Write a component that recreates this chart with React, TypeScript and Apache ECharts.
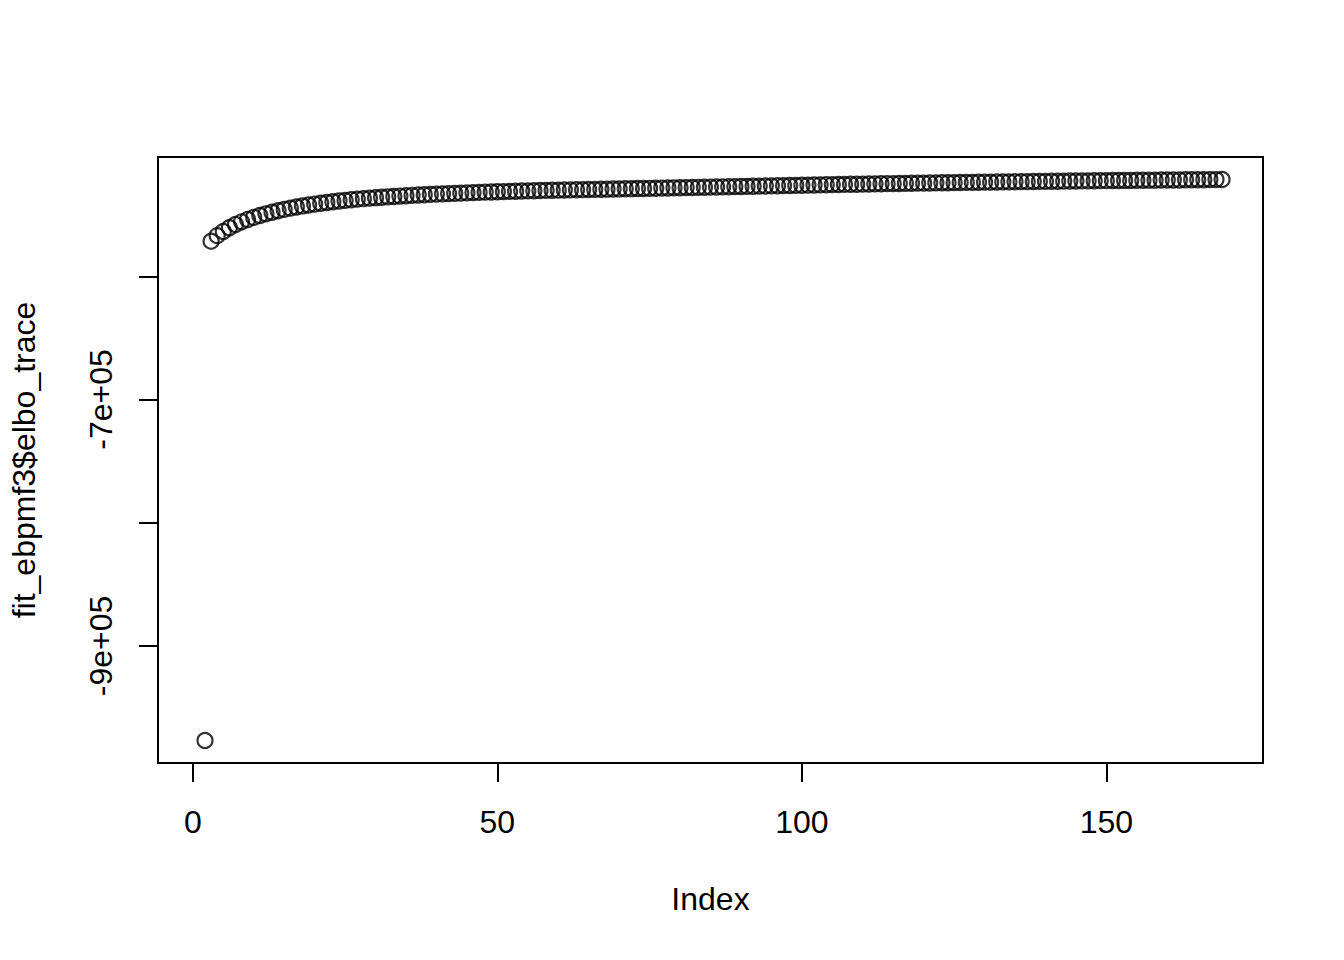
import React, { useEffect, useRef } from "react";
import * as echarts from "echarts";

// fit_ebpmf3$elbo_trace, index 1..169 (index 1 not drawn: NA)
const elboTrace: (number | null)[] = [
  null, -976800,
  -571500, -567000, -563600, -560600, -558000, -555800, -553900, -552200, -550700, -549300,
  -548000, -546800, -545700, -544700, -543800, -542900, -542100, -541400, -540700, -540100,
  -539500, -538900, -538400, -537900, -537400, -537000, -536600, -536200, -535800, -535500,
  -535200, -534900, -534600, -534300, -534000, -533800, -533500, -533300, -533100, -532900,
  -532700, -532500, -532300, -532100, -531900, -531700, -531600, -531400, -531300, -531100,
  -531000, -530800, -530700, -530600, -530400, -530300, -530200, -530100, -530000, -529900,
  -529800, -529700, -529600, -529500, -529400, -529300, -529200, -529100, -529000, -528900,
  -528800, -528700, -528600, -528500, -528400, -528300, -528200, -528100, -528000, -527900,
  -527800, -527700, -527600, -527500, -527400, -527300, -527200, -527100, -527000, -526900,
  -526800, -526700, -526600, -526500, -526400, -526300, -526200, -526100, -526000, -525900,
  -525800, -525700, -525600, -525500, -525400, -525300, -525300, -525200, -525100, -525000,
  -524900, -524800, -524800, -524700, -524600, -524500, -524400, -524400, -524300, -524200,
  -524100, -524100, -524000, -523900, -523800, -523800, -523700, -523600, -523600, -523500,
  -523400, -523400, -523300, -523200, -523200, -523100, -523000, -523000, -522900, -522900,
  -522800, -522700, -522700, -522600, -522600, -522500, -522400, -522400, -522300, -522300,
  -522200, -522200, -522100, -522100, -522000, -522000, -521900, -521900, -521800, -521800,
  -521700, -521700, -521600, -521600, -521500, -521500, -521400,
];

const xTicks = [0, 50, 100, 150];
const yTicks = [-900000, -800000, -700000, -600000];
const yLabelTicks = [-900000, -700000];

const xTitle = "Index";
const yTitle = "fit_ebpmf3$elbo_trace";

function sci(v: number): string {
  if (v === 0) return "0e+00";
  const e = Math.floor(Math.log10(Math.abs(v)));
  const m = Math.round((v / Math.pow(10, e)) * 100) / 100;
  const es = (e < 0 ? "-" : "+") + String(Math.abs(e)).padStart(2, "0");
  return `${m}e${es}`;
}

const FONT = "'Liberation Sans', Arial, Helvetica, sans-serif";

export default function App() {
  const ref = useRef<HTMLDivElement>(null);
  useEffect(() => {
    if (!ref.current) return;
    const chart = echarts.init(ref.current, null, { renderer: "svg" });

    const points: [number, number][] = [];
    elboTrace.forEach((v, i) => {
      if (v !== null) points.push([i + 1, v]);
    });
    const xLo = 1;
    const xHi = elboTrace.length;
    const xPad = (xHi - xLo) * 0.04;
    const ys = points.map((p) => p[1]);
    const yLo = Math.min(...ys);
    const yHi = Math.max(...ys);
    const yPad = (yHi - yLo) * 0.04;

    chart.setOption({
      animation: false,
      backgroundColor: "#ffffff",
      textStyle: { fontFamily: FONT, color: "#000" },
      grid: {
        left: 157,
        right: 81,
        top: 157,
        bottom: 197,
        show: true,
        borderColor: "#000",
        borderWidth: 2,
        backgroundColor: "transparent",
      },
      xAxis: {
        type: "value",
        min: xLo - xPad,
        max: xHi + xPad,
        name: xTitle,
        nameLocation: "middle",
        nameGap: 120,
        nameTextStyle: { fontSize: 32, color: "#000", fontFamily: FONT },
        axisLine: { show: false, onZero: false },
        splitLine: { show: false },
        axisTick: {
          show: true,
          length: 19,
          inside: false,
          lineStyle: { color: "#000", width: 2 },
          customValues: xTicks,
        },
        axisLabel: {
          show: true,
          customValues: xTicks,
          fontSize: 32,
          color: "#000",
          fontFamily: FONT,
          margin: 43,
          formatter: (v: number) => String(v),
        },
      },
      yAxis: {
        type: "value",
        min: yLo - yPad,
        max: yHi + yPad,
        name: yTitle,
        nameLocation: "middle",
        nameGap: 118,
        nameRotate: 90,
        nameTextStyle: { fontSize: 32, color: "#000", fontFamily: FONT },
        axisLine: { show: false, onZero: false },
        splitLine: { show: false },
        axisTick: {
          show: true,
          length: 19,
          inside: false,
          lineStyle: { color: "#000", width: 2 },
          customValues: yTicks,
        },
        axisLabel: {
          show: true,
          customValues: yLabelTicks,
          rotate: 90,
          fontSize: 32,
          color: "#000",
          fontFamily: FONT,
          margin: 41,
          formatter: (v: number) => sci(v),
        },
      },
      series: [
        {
          type: "scatter",
          data: points,
          symbol: "circle",
          symbolSize: 15,
          itemStyle: {
            color: "rgba(0,0,0,0)",
            borderColor: "#000",
            borderWidth: 2.2,
          },
          emphasis: { disabled: true },
        },
      ],
    });
    return () => chart.dispose();
  }, []);
  return (
    <div
      ref={ref}
      style={{ position: "absolute", left: 0, top: 0, width: 1344, height: 960, background: "#fff" }}
    />
  );
}
